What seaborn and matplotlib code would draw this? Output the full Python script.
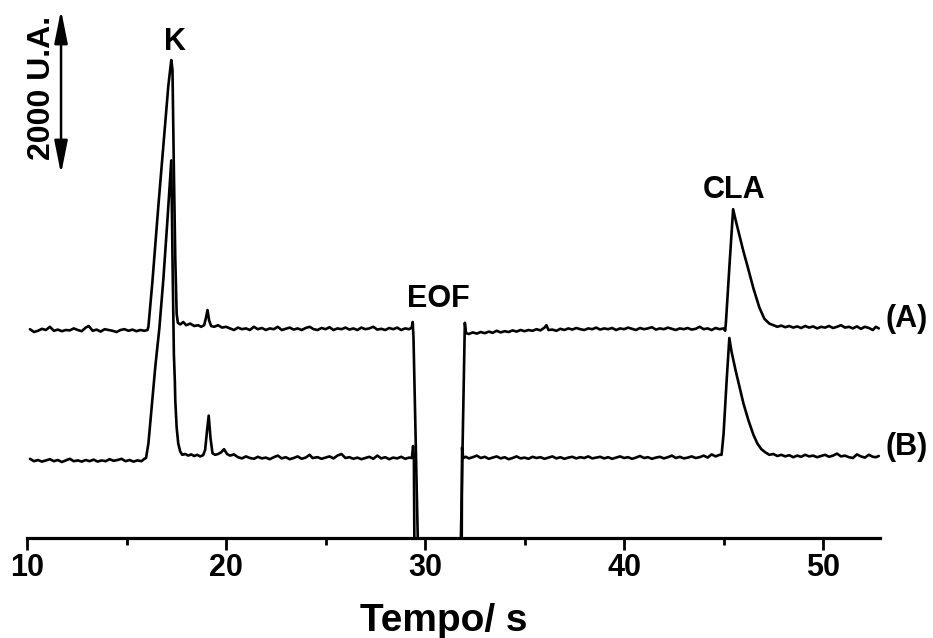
import matplotlib
matplotlib.use('Agg')
import matplotlib.pyplot as plt
from matplotlib.ticker import MultipleLocator
import seaborn as sns
import pandas as pd

# trace (A): tempo (s) / sinal (U.A., com offset)
tempo_A = [10.15, 10.35, 10.55, 10.75, 10.95, 11.15, 11.35, 11.55, 11.75, 11.95,
           12.15, 12.35, 12.55, 12.75, 12.95, 13.1, 13.3, 13.5, 13.7, 13.9,
           14.1, 14.3, 14.5, 14.7, 14.9, 15.1, 15.3, 15.5, 15.7, 15.9, 16.05,
           16.1, 16.3, 16.6, 16.9, 17.1, 17.25, 17.31, 17.38, 17.45, 17.52, 17.58,
           17.7, 17.85, 18.0, 18.2, 18.4, 18.6, 18.75, 18.9, 19.0, 19.07, 19.15,
           19.25, 19.4, 19.6, 19.8, 20.0, 20.2, 20.4, 20.6, 20.8, 21.0, 21.2,
           21.4, 21.6, 21.8, 22.0, 22.2, 22.4, 22.6, 22.8, 23.0, 23.2, 23.4,
           23.6, 23.8, 24.0, 24.2, 24.4, 24.6, 24.8, 25.0, 25.2, 25.4, 25.6,
           25.8, 26.0, 26.2, 26.4, 26.6, 26.8, 27.0, 27.2, 27.4, 27.6, 27.8,
           28.0, 28.2, 28.4, 28.6, 28.8, 29.0, 29.2, 29.33, 29.38, 29.42, 29.66,
           31.78, 32.0, 32.06, 32.2, 32.4, 32.6, 32.8, 33.0, 33.2, 33.4, 33.6,
           33.8, 34.0, 34.2, 34.4, 34.6, 34.8, 35.0, 35.2, 35.4, 35.6, 35.8,
           36.0, 36.1, 36.2, 36.4, 36.6, 36.8, 37.0, 37.2, 37.4, 37.6, 37.8,
           38.0, 38.2, 38.4, 38.6, 38.8, 39.0, 39.2, 39.4, 39.6, 39.8, 40.0,
           40.2, 40.4, 40.6, 40.8, 41.0, 41.2, 41.4, 41.6, 41.8, 42.0, 42.2,
           42.4, 42.6, 42.8, 43.0, 43.2, 43.4, 43.6, 43.8, 44.0, 44.2, 44.4,
           44.6, 44.8, 45.0, 45.08, 45.12, 45.3, 45.48, 45.6, 45.8, 46.0, 46.2,
           46.5, 46.8, 47.05, 47.3, 47.5, 47.7, 47.9, 48.1, 48.3, 48.5, 48.7,
           48.9, 49.1, 49.3, 49.5, 49.7, 49.9, 50.1, 50.3, 50.5, 50.7, 50.9,
           51.1, 51.3, 51.5, 51.7, 51.9, 52.1, 52.3, 52.5, 52.65, 52.8]
sinal_A = [2610, 2575, 2590, 2615, 2600, 2640, 2590, 2605, 2585, 2600,
           2595, 2620, 2600, 2585, 2630, 2650, 2590, 2605, 2580, 2610,
           2600, 2590, 2575, 2600, 2610, 2590, 2605, 2585, 2600, 2590, 2600,
           2640, 3200, 4150, 5050, 5650, 5975, 5850, 4600, 3500, 2800, 2690,
           2670, 2700, 2660, 2680, 2650, 2660, 2640, 2660, 2760, 2850, 2720,
           2650, 2640, 2660, 2630, 2640, 2620, 2600, 2630, 2610, 2620, 2600,
           2640, 2610, 2625, 2600, 2620, 2610, 2640, 2600, 2615, 2630, 2605,
           2620, 2600, 2625, 2640, 2610, 2600, 2625, 2610, 2635, 2600, 2620,
           2610, 2630, 2605, 2620, 2600, 2630, 2610, 2620, 2640, 2605, 2615,
           2600, 2625, 2610, 2630, 2600, 2620, 2610, 2630, 2700, 2500, -300,
           -300, 2690, 2560, 2550, 2570, 2555, 2575, 2560, 2580, 2565, 2590,
           2570, 2585, 2575, 2595, 2580, 2600, 2585, 2600, 2590, 2610, 2595,
           2630, 2660, 2600, 2605, 2590, 2615, 2600, 2620, 2605, 2625, 2610,
           2600, 2620, 2610, 2630, 2605, 2620, 2610, 2625, 2600, 2620, 2610,
           2630, 2615, 2600, 2625, 2610, 2620, 2635, 2605, 2620, 2610, 2630,
           2615, 2600, 2620, 2610, 2625, 2605, 2615, 2640, 2610, 2620, 2600,
           2625, 2610, 2620, 2590, 2700, 3420, 4110, 3980, 3780, 3580, 3400,
           3120, 2880, 2740, 2680, 2660, 2640, 2655, 2635, 2650, 2630, 2645,
           2625, 2650, 2630, 2645, 2620, 2640, 2630, 2650, 2625, 2640, 2660,
           2630, 2640, 2620, 2645, 2615, 2640, 2625, 2600, 2640, 2620]

# trace (B)
tempo_B = [10.15, 10.35, 10.55, 10.75, 10.95, 11.15, 11.35, 11.55, 11.75, 11.95,
           12.15, 12.35, 12.55, 12.75, 12.95, 13.15, 13.35, 13.55, 13.75, 13.95,
           14.15, 14.35, 14.55, 14.75, 14.95, 15.15, 15.35, 15.55, 15.75, 15.9, 15.98,
           16.1, 16.25, 16.45, 16.65, 16.85, 17.05, 17.25, 17.31, 17.38, 17.43, 17.45,
           17.52, 17.6, 17.7, 17.8, 17.95, 18.1, 18.25, 18.4, 18.55, 18.7, 18.85,
           18.95, 19.05, 19.13, 19.22, 19.32, 19.45, 19.6, 19.75, 19.9, 20.05, 20.2,
           20.4, 20.6, 20.8, 21.0, 21.2, 21.4, 21.6, 21.8, 22.0, 22.2, 22.4,
           22.6, 22.8, 23.0, 23.2, 23.4, 23.6, 23.8, 24.0, 24.2, 24.35, 24.6,
           24.8, 25.0, 25.2, 25.4, 25.6, 25.8, 26.0, 26.2, 26.4, 26.6, 26.8,
           27.0, 27.2, 27.4, 27.6, 27.8, 28.0, 28.2, 28.4, 28.6, 28.8, 29.0,
           29.2, 29.34, 29.4, 29.44, 29.47, 31.84, 31.86, 31.92, 32.05, 32.2, 32.4,
           32.6, 32.8, 33.0, 33.2, 33.4, 33.6, 33.8, 34.0, 34.2, 34.4, 34.6,
           34.8, 35.0, 35.2, 35.4, 35.6, 35.8, 36.0, 36.2, 36.4, 36.6, 36.8,
           37.0, 37.2, 37.4, 37.6, 37.8, 38.0, 38.2, 38.4, 38.6, 38.8, 39.0,
           39.2, 39.4, 39.6, 39.8, 40.0, 40.2, 40.4, 40.6, 40.8, 41.0, 41.2,
           41.4, 41.6, 41.8, 42.0, 42.2, 42.4, 42.6, 42.8, 43.0, 43.2, 43.4,
           43.6, 43.8, 44.0, 44.2, 44.4, 44.6, 44.8, 44.9, 45.0, 45.15, 45.29,
           45.4, 45.6, 45.8, 46.0, 46.25, 46.5, 46.7, 46.9, 47.1, 47.3, 47.5,
           47.7, 47.9, 48.1, 48.3, 48.5, 48.7, 48.9, 49.1, 49.3, 49.5, 49.7,
           49.9, 50.1, 50.3, 50.5, 50.7, 50.9, 51.1, 51.3, 51.5, 51.7, 51.9,
           52.1, 52.3, 52.5, 52.65, 52.8]
sinal_B = [990, 960, 975, 955, 970, 985, 960, 975, 950, 970,
           990, 960, 970, 955, 975, 960, 980, 955, 970, 960,
           985, 965, 975, 990, 960, 975, 955, 970, 960, 990, 1000,
           1180, 1600, 2150, 2620, 3230, 3950, 4720, 3500, 2300, 1950, 1720,
           1380, 1180, 1080, 1040, 1050, 1030, 1045, 1025, 1040, 1020, 1035,
           1100, 1350, 1530, 1250, 1060, 1040, 1050, 1070, 1110, 1050, 1030,
           1045, 1010, 995, 1020, 1000, 990, 1015, 995, 1005, 985, 1010,
           1030, 995, 1010, 985, 1000, 1020, 990, 1005, 1040, 1000, 1010,
           990, 1005, 1020, 995, 1030, 1050, 1000, 1010, 990, 1005, 985,
           1000, 1015, 990, 1030, 995, 1010, 985, 1005, 995, 1015, 990,
           1005, 1000, 1150, 1000, -300, -300, 1130, 1000, 1015, 995, 1010,
           1030, 1000, 1015, 990, 1005, 1020, 995, 1010, 985, 1000, 1020,
           995, 1005, 990, 1015, 1000, 1010, 990, 1005, 1020, 995, 1010,
           990, 1005, 1015, 995, 1010, 1000, 1020, 995, 1005, 1015, 995,
           1010, 990, 1005, 1020, 1000, 1010, 990, 1005, 1025, 1000, 1010,
           990, 1005, 1015, 995, 1010, 1030, 1000, 1015, 995, 1005, 1020,
           1000, 1010, 1030, 1005, 1045, 1020, 1040, 1040, 1300, 1950, 2500,
           2330, 2100, 1890, 1680, 1470, 1290, 1180, 1110, 1070, 1040, 1050,
           1025, 1040, 1020, 1035, 1010, 1030, 1015, 1040, 1020, 1030, 1010,
           1025, 1040, 1015, 1030, 1055, 1020, 1030, 1010, 1000, 1045, 1020,
           1005, 1040, 1015, 1010, 1025]

picos = ['K', 'EOF', 'CLA']
picos_x = [17.44, 30.65, 45.53]
picos_y = [6100, 2890, 4250]

sns.set_theme(style='white')
plt.rcParams['font.family'] = ['Liberation Sans', 'DejaVu Sans']
plt.rcParams['font.weight'] = 'bold'
plt.rcParams['text.color'] = 'black'
plt.rcParams['axes.labelcolor'] = 'black'
plt.rcParams['xtick.color'] = 'black'
plt.rcParams['xtick.labelcolor'] = 'black'

fig = plt.figure(figsize=(9.33, 6.38), dpi=100)
ax = fig.add_axes([27 / 933, 100 / 638, 853 / 933, 538 / 638])

df_A = pd.DataFrame({'tempo': tempo_A, 'sinal': sinal_A})
df_B = pd.DataFrame({'tempo': tempo_B, 'sinal': sinal_B})
for df in [df_A, df_B]:
    sns.lineplot(data=df, x='tempo', y='sinal', ax=ax, color='black',
                 linewidth=1.9, estimator=None, sort=False)

ax.set_xlim(10, 52.86)
ax.set_ylim(0, 6725)

# eixos
sns.despine(ax=ax, left=True, top=True, right=True)
ax.spines['bottom'].set_linewidth(2.3)
ax.spines['bottom'].set_color('black')
ax.set_yticks([])
ax.set_ylabel('')
ax.xaxis.set_major_locator(MultipleLocator(10))
ax.xaxis.set_minor_locator(MultipleLocator(5))
ax.tick_params(axis='x', which='major', bottom=True, direction='out', length=8.5,
               width=2, color='black', labelcolor='black', labelsize=22, pad=2)
ax.tick_params(axis='x', which='minor', bottom=True, direction='out', length=5,
               width=2, color='black')
for lab in ax.get_xticklabels():
    lab.set_fontweight('bold')
ax.set_xlabel('Tempo/ s', fontsize=28, fontweight='bold', color='black')
ax.xaxis.set_label_coords(0.488, -0.12)

# nomes dos picos
for nome, px, py in zip(picos, picos_x, picos_y):
    ax.text(px, py, nome, ha='center', va='baseline', fontsize=22,
            fontweight='bold', color='black')

ax.text(54.2, 2640, '(A)', ha='center', va='baseline', fontsize=22,
        fontweight='bold', color='black', clip_on=False)
ax.text(54.2, 1040, '(B)', ha='center', va='baseline', fontsize=22,
        fontweight='bold', color='black', clip_on=False)

# escala
ax.annotate('', xy=(11.71, 6600), xytext=(11.71, 4550),
            arrowprops=dict(arrowstyle='<|-|>,head_width=0.2,head_length=1.0',
                            color='black', lw=1.8, mutation_scale=20, shrinkA=0, shrinkB=0))
ax.text(10.75, 5625, '2000 U.A.', rotation=90, ha='center', va='center',
        fontsize=23, fontweight='bold', color='black')

fig.savefig('out.png', dpi=100)
